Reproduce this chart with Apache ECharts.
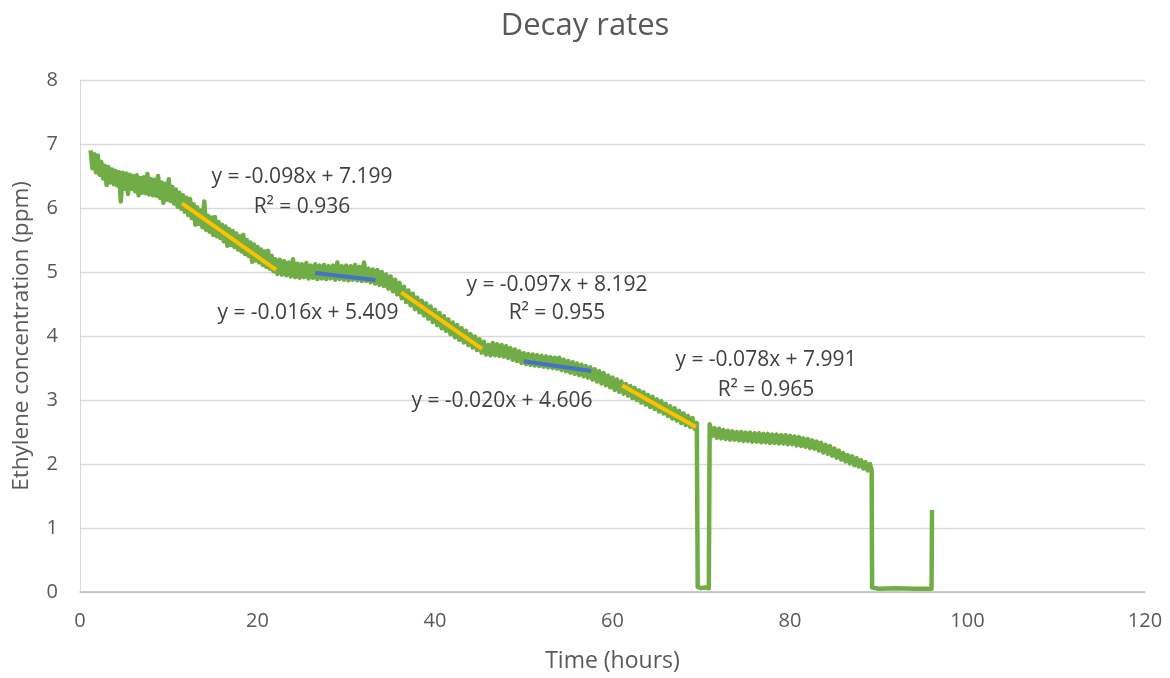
<!DOCTYPE html>
<html>
<head>
<meta charset="utf-8">
<script src="https://cdn.jsdelivr.net/npm/echarts@6/dist/echarts.min.js"></script>
<style>html,body{margin:0;padding:0;background:#fff}#c{width:1170px;height:678px}</style>
</head>
<body>
<div id="c"></div>
<script>
// Measured ethylene concentration: [time (h), ppm]
var seg1 = [[1.2,6.90],[1.4,6.62],[1.6,6.84],[1.8,6.56],[2.0,6.82],[2.2,6.52],[2.4,6.72],[2.6,6.46],[2.8,6.66],[3.0,6.36],[3.2,6.64],[3.4,6.40],[3.6,6.60],[3.8,6.37],[4.0,6.58],[4.2,6.35],[4.4,6.56],[4.6,6.10],[4.8,6.55],[5.0,6.30],[5.2,6.54],[5.4,6.22],[5.6,6.52],[5.8,6.30],[6.0,6.50],[6.2,6.26],[6.4,6.51],[6.6,6.20],[6.8,6.47],[7.0,6.24],[7.2,6.48],[7.4,6.23],[7.6,6.53],[7.8,6.21],[8.0,6.45],[8.2,6.20],[8.4,6.44],[8.6,6.19],[8.8,6.50],[9.0,6.16],[9.2,6.40],[9.4,6.08],[9.6,6.38],[9.8,6.13],[10.0,6.45],[10.2,6.11],[10.4,6.33],[10.6,6.07],[10.8,6.29],[11.0,6.02],[11.2,6.24],[11.4,5.99],[11.6,6.20],[11.8,5.94],[12.0,6.16],[12.2,5.89],[12.4,6.14],[12.6,5.84],[12.8,6.06],[13.0,5.74],[13.2,6.01],[13.4,5.75],[13.6,5.96],[13.8,5.70],[14.0,6.10],[14.2,5.66],[14.4,5.88],[14.6,5.63],[14.8,5.85],[15.0,5.58],[15.2,5.86],[15.4,5.56],[15.6,5.78],[15.8,5.53],[16.0,5.74],[16.2,5.48],[16.4,5.71],[16.6,5.41],[16.8,5.67],[17.0,5.42],[17.2,5.64],[17.4,5.39],[17.6,5.60],[17.8,5.35],[18.0,5.56],[18.2,5.32],[18.4,5.58],[18.6,5.28],[18.8,5.50],[19.0,5.25],[19.2,5.46],[19.4,5.16],[19.6,5.43],[19.8,5.18],[20.0,5.39],[20.2,5.15],[20.4,5.35],[20.6,5.11],[20.8,5.32],[21.0,5.08],[21.2,5.33],[21.4,5.05],[21.6,5.25],[21.8,5.01],[22.0,5.20]];
var seg2 = [[22.25,4.97],[22.5,5.19],[22.75,4.96],[23.0,5.17],[23.25,4.95],[23.5,5.15],[23.75,4.93],[24.0,5.20],[24.25,4.92],[24.5,5.13],[24.75,4.91],[25.0,5.12],[25.25,4.92],[25.5,5.14],[25.75,4.90],[26.0,5.10],[26.25,4.91],[26.5,5.12],[26.75,4.89],[27.0,5.10],[27.25,4.90],[27.5,5.11],[27.75,4.89],[28.0,5.09],[28.25,4.90],[28.5,5.10],[28.75,4.88],[29.0,5.15],[29.25,4.89],[29.5,5.09],[29.75,4.88],[30.0,5.10],[30.25,4.87],[30.5,5.09],[30.75,4.88],[31.0,5.11],[31.25,4.87],[31.5,5.08],[31.75,4.86],[32.0,5.15],[32.25,4.86],[32.5,5.05],[32.75,4.84],[33.0,5.04],[33.25,4.82],[33.5,5.03],[33.75,4.80],[34.0,5.00],[34.25,4.78],[34.5,4.96],[34.75,4.74],[35.0,4.93],[35.25,4.70],[35.5,4.88],[35.75,4.65],[36.0,4.83],[36.25,4.59],[36.5,4.77],[36.75,4.53],[37.0,4.71],[37.25,4.48],[37.5,4.66],[37.75,4.42],[38.0,4.60],[38.25,4.37],[38.5,4.55],[38.75,4.32],[39.0,4.51],[39.25,4.27],[39.5,4.46],[39.75,4.22],[40.0,4.41],[40.25,4.17],[40.5,4.36],[40.75,4.12],[41.0,4.31],[41.25,4.08],[41.5,4.26],[41.75,4.03],[42.0,4.21],[42.25,3.98],[42.5,4.17],[42.75,3.94],[43.0,4.12],[43.25,3.90],[43.5,4.08],[43.75,3.86],[44.0,4.03],[44.25,3.82],[44.5,3.99],[44.75,3.78],[45.0,3.95],[45.25,3.74],[45.5,3.91],[45.75,3.71],[46.0,3.86]];
var seg3 = [[46.25,3.70],[46.5,3.89],[46.75,3.70],[47.0,3.87],[47.25,3.69],[47.5,3.86],[47.75,3.68],[48.0,3.84],[48.25,3.66],[48.5,3.81],[48.75,3.63],[49.0,3.79],[49.25,3.61],[49.5,3.76],[49.75,3.58],[50.0,3.73],[50.25,3.56],[50.5,3.72],[50.75,3.55],[51.0,3.71],[51.25,3.54],[51.5,3.70],[51.75,3.53],[52.0,3.69],[52.25,3.52],[52.5,3.68],[52.75,3.51],[53.0,3.67],[53.25,3.50],[53.5,3.66],[53.75,3.49],[54.0,3.66],[54.25,3.47],[54.5,3.63],[54.75,3.45],[55.0,3.61],[55.25,3.43],[55.5,3.59],[55.75,3.41],[56.0,3.57],[56.25,3.39],[56.5,3.55],[56.75,3.37],[57.0,3.53],[57.25,3.35],[57.5,3.51],[57.75,3.32],[58.0,3.48],[58.25,3.29],[58.5,3.45],[58.75,3.26],[59.0,3.42],[59.25,3.23],[59.5,3.38],[59.75,3.20],[60.0,3.35],[60.25,3.16],[60.5,3.32],[60.75,3.13],[61.0,3.29],[61.25,3.10],[61.5,3.25],[61.75,3.07],[62.0,3.22],[62.25,3.03],[62.5,3.19],[62.75,3.00],[63.0,3.15],[63.25,2.96],[63.5,3.12],[63.75,2.93],[64.0,3.08],[64.25,2.89],[64.5,3.05],[64.75,2.86],[65.0,3.01],[65.25,2.82],[65.5,2.98],[65.75,2.79],[66.0,2.94],[66.25,2.75],[66.5,2.90],[66.75,2.71],[67.0,2.87],[67.25,2.68],[67.5,2.83],[67.75,2.64],[68.0,2.79],[68.25,2.61],[68.5,2.75],[68.75,2.58],[69.0,2.72],[69.25,2.55],[69.5,2.64]];
var gap1 = [[69.6,0.08],[70.0,0.06],[70.4,0.07],[70.85,0.06],[70.95,2.62]];
var seg4 = [[71.25,2.44],[71.5,2.56],[71.75,2.41],[72.0,2.55],[72.25,2.40],[72.5,2.53],[72.75,2.39],[73.0,2.52],[73.25,2.38],[73.5,2.51],[73.75,2.38],[74.0,2.50],[74.25,2.37],[74.5,2.50],[74.75,2.36],[75.0,2.49],[75.25,2.36],[75.5,2.49],[75.75,2.35],[76.0,2.48],[76.25,2.35],[76.5,2.48],[76.75,2.34],[77.0,2.47],[77.25,2.34],[77.5,2.47],[77.75,2.33],[78.0,2.46],[78.25,2.33],[78.5,2.46],[78.75,2.32],[79.0,2.45],[79.25,2.32],[79.5,2.45],[79.75,2.31],[80.0,2.44],[80.25,2.31],[80.5,2.43],[80.75,2.29],[81.0,2.42],[81.25,2.28],[81.5,2.40],[81.75,2.27],[82.0,2.39],[82.25,2.25],[82.5,2.37],[82.75,2.24],[83.0,2.35],[83.25,2.21],[83.5,2.33],[83.75,2.18],[84.0,2.30],[84.25,2.16],[84.5,2.28],[84.75,2.13],[85.0,2.24],[85.25,2.10],[85.5,2.21],[85.75,2.07],[86.0,2.17],[86.25,2.04],[86.5,2.14],[86.75,2.01],[87.0,2.12],[87.25,1.98],[87.5,2.09],[87.75,1.96],[88.0,2.06],[88.25,1.93],[88.5,2.03],[88.75,1.90],[89.0,2.00],[89.2,1.90]];
var tail = [[89.25,0.07],[90.0,0.05],[92.0,0.06],[94.0,0.05],[95.95,0.05],[96.0,1.28]];

// Trend-line endpoints [time, ppm]
var trendA = [[11.5,6.072],[22.1,5.033]];
var trendB = [[26.5,4.985],[33.3,4.876]];
var trendC = [[36.2,4.681],[45.3,3.798]];
var trendD = [[50.0,3.606],[57.6,3.454]];
var trendE = [[61.1,3.225],[69.4,2.578]];

var xTicks = {min:0, max:120, interval:20};
var yTicks = {min:0, max:8, interval:1};

// Equation labels
var eqLabels = [
  {text:'y = -0.098x + 7.199', x:302, y:177},
  {text:'R² = 0.936', x:302, y:207},
  {text:'y = -0.016x + 5.409', x:308, y:313},
  {text:'y = -0.097x + 8.192', x:557, y:285},
  {text:'R² = 0.955', x:557, y:313},
  {text:'y = -0.020x + 4.606', x:502, y:401},
  {text:'y = -0.078x + 7.991', x:766, y:360},
  {text:'R² = 0.965', x:766, y:390}
];

var measured = [].concat(seg1, seg2, seg3, gap1, seg4, tail);
var FONT = '"Open Sans", "Noto Sans", sans-serif';
var chart = echarts.init(document.getElementById('c'));
function trend(d, col){
  return {type:'line', data:d, showSymbol:false, symbol:'none', silent:true,
    lineStyle:{color:col, width:4}, z:3};
}
chart.setOption({
  animation:false,
  backgroundColor:'#ffffff',
  title:{text:'Decay rates', left:'center', top:6,
    textStyle:{fontFamily:FONT, fontSize:31, fontWeight:'normal', color:'#595959'}},
  grid:{left:80, right:25, top:80, bottom:86, containLabel:false, outerBoundsMode:'none'},
  xAxis:{type:'value', min:xTicks.min, max:xTicks.max, interval:xTicks.interval,
    name:'Time (hours)', nameLocation:'middle', nameGap:58,
    nameTextStyle:{fontFamily:FONT, fontSize:23, color:'#595959'},
    axisLine:{show:true, lineStyle:{color:'#bfbfbf', width:1.5}},
    axisTick:{show:false}, splitLine:{show:false},
    axisLabel:{fontFamily:FONT, fontSize:20, color:'#595959', margin:19}},
  yAxis:{type:'value', min:yTicks.min, max:yTicks.max, interval:yTicks.interval,
    name:'Ethylene concentration (ppm)', nameLocation:'middle', nameGap:47,
    nameTextStyle:{fontFamily:FONT, fontSize:22.5, color:'#595959'},
    axisLine:{show:true, lineStyle:{color:'#d9d9d9', width:1}},
    axisTick:{show:false},
    splitLine:{show:true, lineStyle:{color:'#d9d9d9', width:1.3}},
    axisLabel:{fontFamily:FONT, fontSize:20, color:'#595959', margin:22}},
  graphic: eqLabels.map(function(l){
    return {type:'text', x:l.x, y:l.y, z:10,
      style:{text:l.text, fill:'#404040', font:'21px ' + FONT, textAlign:'center', textVerticalAlign:'middle'}};
  }),
  series:[
    {type:'line', data:measured, showSymbol:false, symbol:'none', silent:true,
      lineStyle:{color:'#70AD47', width:4.5, join:'round'}, z:2},
    trend(trendA, '#FFC000'),
    trend(trendB, '#4472C4'),
    trend(trendC, '#FFC000'),
    trend(trendD, '#4472C4'),
    trend(trendE, '#FFC000')
  ]
});
</script>
</body>
</html>
